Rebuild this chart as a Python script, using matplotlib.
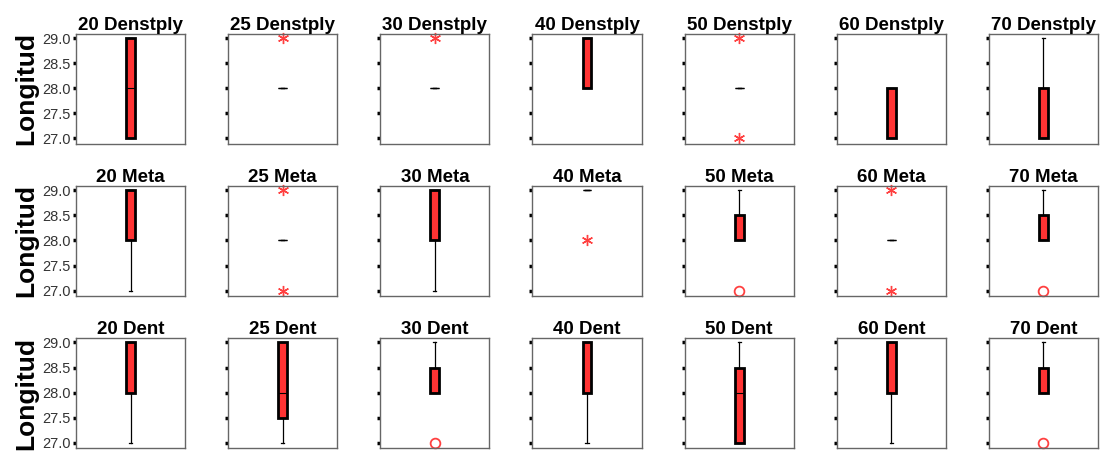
import matplotlib.pyplot as plt

plt.rcParams['font.family'] = ['Liberation Sans', 'DejaVu Sans']

sizes = [20, 25, 30, 40, 50, 60, 70]
groups = ['Denstply', 'Meta', 'Dent']

# box statistics per group, one entry per size
q1 = {
    'Denstply': [27, 28, 28, 28, 28, 27, 27],
    'Meta': [28, 28, 28, 29, 28, 28, 28],
    'Dent': [28, 27.5, 28, 28, 27, 28, 28],
}
med = {
    'Denstply': [28, 28, 28, 29, 28, 28, 28],
    'Meta': [29, 28, 29, 29, 28.5, 28, 28.5],
    'Dent': [29, 28, 28.5, 29, 28, 29, 28.5],
}
q3 = {
    'Denstply': [29, 28, 28, 29, 28, 28, 28],
    'Meta': [29, 28, 29, 29, 28.5, 28, 28.5],
    'Dent': [29, 29, 28.5, 29, 28.5, 29, 28.5],
}
whislo = {
    'Denstply': [27, 28, 28, 28, 28, 27, 27],
    'Meta': [27, 28, 27, 29, 28, 28, 28],
    'Dent': [27, 27, 28, 27, 27, 27, 28],
}
whishi = {
    'Denstply': [29, 28, 28, 29, 28, 28, 29],
    'Meta': [29, 28, 29, 29, 29, 28, 29],
    'Dent': [29, 29, 29, 29, 29, 29, 29],
}
# outliers (circles) and extremes (asterisks)
outliers = {
    'Denstply': [[], [], [], [], [], [], []],
    'Meta': [[], [], [], [], [27], [], [27]],
    'Dent': [[], [], [27], [], [], [], [27]],
}
extremes = {
    'Denstply': [[], [29], [29], [], [27, 29], [], []],
    'Meta': [[], [27, 29], [], [28], [], [27, 29], []],
    'Dent': [[], [], [], [], [], [], []],
}

yticks = [27.0, 27.5, 28.0, 28.5, 29.0]

fig, axes = plt.subplots(3, 7, figsize=(11.04, 4.51), dpi=100)
fig.subplots_adjust(left=0.0688, right=0.9946, top=0.9246, bottom=0.0067,
                    wspace=0.394, hspace=0.39)

red = '#ff3333'
for r, g in enumerate(groups):
    for c, s in enumerate(sizes):
        ax = axes[r, c]
        stats = [{
            'q1': q1[g][c], 'med': med[g][c], 'q3': q3[g][c],
            'whislo': whislo[g][c], 'whishi': whishi[g][c], 'fliers': [],
        }]
        collapsed = q1[g][c] == q3[g][c]
        ax.bxp(stats, positions=[1], widths=0.08, capwidths=0.03,
               patch_artist=True, showfliers=False,
               boxprops=dict(facecolor=red, edgecolor='black',
                             linewidth=1.0 if collapsed else 2.0),
               medianprops=dict(color='black', linewidth=0.8),
               whiskerprops=dict(color='black', linewidth=0.9),
               capprops=dict(color='black', linewidth=0.9))
        if outliers[g][c]:
            ax.plot([1] * len(outliers[g][c]), outliers[g][c], 'o', ms=7,
                    mfc='none', mec='#ff4040', mew=1.3, clip_on=False)
        if extremes[g][c]:
            ax.plot([1] * len(extremes[g][c]), extremes[g][c],
                    marker=(6, 2, 0), ls='none', ms=8, color='#ff4040',
                    mew=1.0, clip_on=False)
        ax.set_xlim(0.5, 1.5)
        ax.set_ylim(26.9, 29.08)
        ax.set_xticks([])
        ax.set_yticks(yticks)
        ax.tick_params(axis='y', direction='out', length=2.5, width=2.5,
                       color='black', labelsize=10.5, labelcolor='#333333', pad=1)
        for sp in ax.spines.values():
            sp.set_color('#666666')
            sp.set_linewidth(1.0)
        ax.set_title(f'{s} {g}', fontsize=13.5, fontweight='bold', pad=2)
        if c == 0:
            ax.set_yticklabels([f'{v:.1f}' for v in yticks])
            ax.set_ylabel('Longitud', fontsize=19, fontweight='bold', labelpad=3)
        else:
            ax.set_yticklabels([])

fig.savefig('out.png', dpi=100)
